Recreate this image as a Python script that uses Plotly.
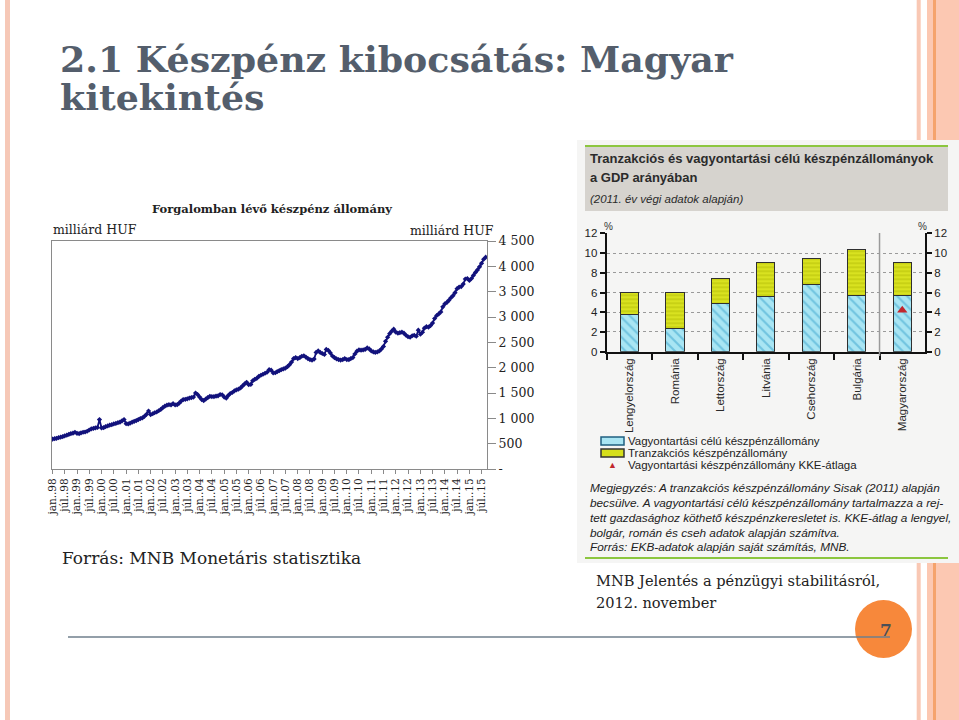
import pandas as pd
import plotly.graph_objects as go

W, H = 959, 720


def px(x):
    return x / W


def py(y):
    return 1 - y / H


# Forgalomban lévő készpénz állomány (milliárd HUF), havi adatok 1998 jan - 2015 szep
cash_1998 = [590, 598, 605, 618, 628, 640, 655, 668, 685, 700, 708, 725]
cash_1999 = [705, 700, 712, 725, 730, 745, 770, 790, 800, 810, 820, 975]
cash_2000 = [810, 815, 835, 850, 865, 875, 890, 900, 915, 925, 950, 975]
cash_2001 = [895, 890, 905, 925, 940, 955, 975, 995, 1010, 1040, 1080, 1145]
cash_2002 = [1075, 1090, 1110, 1125, 1150, 1175, 1210, 1240, 1260, 1270, 1265, 1290]
cash_2003 = [1265, 1270, 1300, 1340, 1370, 1375, 1385, 1400, 1410, 1420, 1500, 1470]
cash_2004 = [1420, 1370, 1350, 1380, 1410, 1435, 1430, 1430, 1440, 1445, 1470, 1465]
cash_2005 = [1420, 1400, 1450, 1490, 1510, 1540, 1560, 1575, 1600, 1640, 1680, 1710]
cash_2006 = [1665, 1670, 1740, 1770, 1790, 1830, 1850, 1870, 1890, 1910, 1960, 1950]
cash_2007 = [1895, 1900, 1920, 1940, 1960, 1975, 1990, 2020, 2060, 2110, 2180, 2200]
cash_2008 = [2180, 2200, 2225, 2235, 2210, 2180, 2160, 2150, 2170, 2300, 2330, 2300]
cash_2009 = [2280, 2260, 2360, 2340, 2290, 2230, 2200, 2175, 2160, 2150, 2160, 2180]
cash_2010 = [2160, 2160, 2180, 2200, 2270, 2325, 2350, 2345, 2350, 2360, 2390, 2370]
cash_2011 = [2330, 2310, 2300, 2310, 2330, 2370, 2420, 2520, 2600, 2670, 2720, 2760]
cash_2012 = [2700, 2680, 2690, 2700, 2680, 2640, 2610, 2600, 2630, 2640, 2620, 2740]
cash_2013 = [2660, 2700, 2780, 2810, 2800, 2830, 2880, 2970, 3030, 3060, 3100, 3200]
cash_2014 = [3260, 3290, 3330, 3380, 3420, 3480, 3560, 3590, 3600, 3650, 3750, 3760]
cash_2015 = [3720, 3760, 3820, 3880, 3930, 3990, 4060, 4140, 4180]

cash_values = (cash_1998 + cash_1999 + cash_2000 + cash_2001 + cash_2002 + cash_2003
               + cash_2004 + cash_2005 + cash_2006 + cash_2007 + cash_2008 + cash_2009
               + cash_2010 + cash_2011 + cash_2012 + cash_2013 + cash_2014 + cash_2015)
cash_months = pd.date_range("1998-01-01", periods=len(cash_values), freq="MS")

date_ticks = [f"{y}-{m:02d}-01" for y in range(1998, 2016) for m in (1, 7)]
date_tick_text = [("jan." if m == 1 else "júl.") + "." + str(y)[2:]
                  for y in range(1998, 2016) for m in (1, 7)]
cash_ticks = [0, 500, 1000, 1500, 2000, 2500, 3000, 3500, 4000, 4500]
cash_tick_text = ["-", "500", "1 000", "1 500", "2 000", "2 500", "3 000", "3 500", "4 000", "4 500"]

# Készpénzállományok a GDP arányában (%), 2011 év vége
countries = ["Lengyelország", "Románia", "Lettország", "Litvánia",
             "Csehország", "Bulgária", "Magyarország"]
hoarding_share = [3.8, 2.4, 4.9, 5.6, 6.8, 5.7, 5.7]
transaction_share = [2.2, 3.6, 2.5, 3.45, 2.65, 4.7, 3.35]
cee_avg_country = ["Magyarország"]
cee_avg_value = [4.2]
pct_ticks = [0, 2, 4, 6, 8, 10, 12]

SERIF = "DejaVu Serif"
SANS = "Liberation Sans"

fig = go.Figure()

fig.add_trace(go.Scatter(
    x=cash_months, y=cash_values, mode="lines+markers",
    line=dict(color="#12127c", width=1.8),
    marker=dict(symbol="diamond", size=4, color="#12127c"),
    xaxis="x", yaxis="y", showlegend=False,
))

fig.add_trace(go.Bar(
    x=countries, y=hoarding_share, xaxis="x2", yaxis="y2", width=0.4,
    marker=dict(color="#a9e5f3", line=dict(color="#2f2f2f", width=1),
                pattern=dict(shape="\\", fgcolor="#37a2cc", bgcolor="#a9e5f3",
                             size=7, solidity=0.3)),
    showlegend=False,
))
fig.add_trace(go.Bar(
    x=countries, y=transaction_share, xaxis="x2", yaxis="y2", width=0.4,
    marker=dict(color="#d6df1c", line=dict(color="#2f2f2f", width=1),
                pattern=dict(shape="-", fgcolor="#a9b000", bgcolor="#d9e220",
                             size=4, solidity=0.35)),
    showlegend=False,
))
fig.add_trace(go.Scatter(
    x=cee_avg_country, y=cee_avg_value, mode="markers", xaxis="x2", yaxis="y3",
    marker=dict(symbol="triangle-up", size=9, color="#c1272d"),
    showlegend=False,
))

axis_gray = "#8a8a8a"
fig.update_layout(
    width=W, height=H,
    margin=dict(l=0, r=0, t=0, b=0, autoexpand=False),
    paper_bgcolor="white",
    plot_bgcolor="rgba(0,0,0,0)",
    barmode="stack",
    xaxis=dict(
        domain=[px(52), px(487)], anchor="y", type="date", automargin=False,
        range=["1997-12-24", "2015-09-20"],
        tickvals=date_ticks, ticktext=date_tick_text, tickangle=-90,
        ticks="outside", ticklen=4, tickcolor=axis_gray,
        tickfont=dict(family=SERIF, size=10.5, color="#222"),
        showline=True, linecolor=axis_gray, linewidth=1.2, mirror=True,
        showgrid=False, zeroline=False,
    ),
    yaxis=dict(
        domain=[py(469), py(241)], anchor="x", side="right", automargin=False,
        range=[0, 4500], tickvals=cash_ticks, ticktext=cash_tick_text,
        ticks="outside", ticklen=8, tickcolor=axis_gray,
        tickfont=dict(family=SERIF, size=12.5, color="#222"),
        showline=True, linecolor=axis_gray, linewidth=1.2, mirror=True,
        showgrid=False, zeroline=False,
    ),
    xaxis2=dict(
        domain=[px(606.7), px(925)], anchor="y2", type="category", automargin=False,
        range=[-0.5, 6.5], tickangle=-90,
        ticks="outside", tickson="boundaries", ticklen=6, tickwidth=2, tickcolor="#111",
        tickfont=dict(family=SANS, size=11.5, color="#2a2a2a"),
        showline=True, linecolor="#111", linewidth=2,
        showgrid=False, zeroline=False,
    ),
    yaxis2=dict(
        domain=[py(351.7), py(233.3)], anchor="x2", automargin=False,
        range=[0, 12], tickvals=pct_ticks,
        ticks="outside", ticklen=5, tickwidth=2, tickcolor="#111",
        tickfont=dict(family=SANS, size=11.5, color="#222"),
        showline=True, linecolor="#111", linewidth=2,
        showgrid=True, gridcolor="#9a9a9a", griddash="dot", gridwidth=1,
        zeroline=False,
    ),
    yaxis3=dict(
        overlaying="y2", anchor="x2", side="right", automargin=False,
        range=[0, 12], tickvals=pct_ticks,
        ticks="outside", ticklen=5, tickwidth=2, tickcolor="#111",
        tickfont=dict(family=SANS, size=11.5, color="#222"),
        showline=True, linecolor="#111", linewidth=2,
        showgrid=False, zeroline=False,
    ),
)

shapes = [
    # slide decorations
    dict(type="rect", xref="paper", yref="paper", x0=px(5), x1=px(10), y0=0, y1=1,
         fillcolor="#f6c8b7", line_width=0, layer="below"),
    dict(type="rect", xref="paper", yref="paper", x0=px(916.7), x1=px(920.7), y0=0, y1=1,
         fillcolor="#f9c8b4", line_width=0, layer="below"),
    dict(type="rect", xref="paper", yref="paper", x0=px(927), x1=1, y0=0, y1=1,
         fillcolor="#fcc8b2", line_width=0, layer="below"),
    dict(type="rect", xref="paper", yref="paper", x0=px(933), x1=px(936), y0=0, y1=1,
         fillcolor="#f5a36c", line_width=0, layer="below"),
    # bar chart panel
    dict(type="rect", xref="paper", yref="paper", x0=px(577), x1=1, y0=py(563), y1=py(140),
         fillcolor="#f5f5f4", line_width=0, layer="below"),
    dict(type="rect", xref="paper", yref="paper", x0=px(585), x1=px(948), y0=py(211), y1=py(147),
         fillcolor="#d6d3ce", line_width=0, layer="below"),
    dict(type="line", xref="paper", yref="paper", x0=px(585), x1=px(948), y0=py(146), y1=py(146),
         line=dict(color="#8cc63f", width=2), layer="below"),
    dict(type="line", xref="paper", yref="paper", x0=px(585), x1=px(948), y0=py(558), y1=py(558),
         line=dict(color="#8cc63f", width=2), layer="below"),
    # separator before Magyarország
    dict(type="line", xref="x2", yref="paper", x0=5.5, x1=5.5, y0=py(356), y1=py(233),
         line=dict(color="#9a9a9a", width=1.5)),
    # manual legend swatches
    dict(type="rect", xref="paper", yref="paper", x0=px(601), x1=px(624), y0=py(445), y1=py(437),
         fillcolor="#a9e5f3", line=dict(color="#1f5f80", width=1.5)),
    dict(type="rect", xref="paper", yref="paper", x0=px(601), x1=px(624), y0=py(457), y1=py(449),
         fillcolor="#d6df1c", line=dict(color="#333", width=1.5)),
    # page number
    dict(type="circle", xref="paper", yref="paper", x0=px(855), x1=px(912), y0=py(658), y1=py(600),
         fillcolor="#f7883b", line_width=0),
    dict(type="line", xref="paper", yref="paper", x0=px(68), x1=px(890), y0=py(637), y1=py(637),
         line=dict(color="#6f7f8c", width=1.5)),
]
fig.update_layout(shapes=shapes)


def note(x, y, text, size, family, color="#222", xanchor="left", bold=False, italic=False):
    if bold:
        text = f"<b>{text}</b>"
    if italic:
        text = f"<i>{text}</i>"
    return dict(x=px(x), y=py(y), xref="paper", yref="paper", text=text, showarrow=False,
                xanchor=xanchor, yanchor="middle",
                font=dict(family=family, size=size, color=color))


title_color = "#545e6c"
annotations = [
    note(58, 59, "2.1 Készpénz kibocsátás: Magyar", 36.3, SERIF, title_color, bold=True),
    note(58, 98, "kitekintés", 36.3, SERIF, title_color, bold=True),
    # left chart
    note(272, 209, "Forgalomban lévő készpénz állomány", 11.5, SERIF, "#222", "center", bold=True),
    note(51, 230, "milliárd HUF", 12.5, SERIF, "#222"),
    note(496, 231, "milliárd HUF", 12.5, SERIF, "#222", "right"),
    note(60, 558, "Forrás: MNB Monetáris statisztika", 17, SERIF, "#222"),
    # right chart
    note(588, 158, "Tranzakciós és vagyontartási célú készpénzállományok", 13, SANS, "#2b2b2b", bold=True),
    note(588, 177, "a GDP arányában", 13, SANS, "#2b2b2b", bold=True),
    note(588, 199, "(2011. év végi adatok alapján)", 11.5, SANS, "#2b2b2b", italic=True),
    note(608, 226, "%", 10, SANS, "#333", "center"),
    note(922, 226, "%", 10, SANS, "#333", "center"),
    note(626, 441, "Vagyontartási célú készpénzállomány", 11.5, SANS, "#222"),
    note(626, 453, "Tranzakciós készpénzállomány", 11.5, SANS, "#222"),
    note(612, 465, "▲", 9, SANS, "#c1272d", "center"),
    note(626, 465, "Vagyontartási készpénzállomány KKE-átlaga", 11.5, SANS, "#222"),
    note(588, 488, "Megjegyzés: A tranzakciós készpénzállomány Sisak (2011) alapján", 11.8, SANS, "#222", italic=True),
    note(588, 503, "becsülve. A vagyontartási célú készpénzállomány tartalmazza a rej-", 11.8, SANS, "#222", italic=True),
    note(588, 518, "tett gazdasághoz köthető készpénzkeresletet is. KKE-átlag a lengyel,", 11.8, SANS, "#222", italic=True),
    note(588, 533, "bolgár, román és cseh adatok alapján számítva.", 11.8, SANS, "#222", italic=True),
    note(588, 547, "Forrás: EKB-adatok alapján saját számítás, MNB.", 11.8, SANS, "#222", italic=True),
    note(594, 580, "MNB Jelentés a pénzügyi stabilitásról,", 14.6, SERIF, "#222"),
    note(594, 602, "2012. november", 14.6, SERIF, "#222"),
    note(886, 630, "7", 17, SERIF, "#4a4f57", "center", bold=True),
]
fig.update_layout(annotations=annotations)

fig.write_html("out.html", config={"displayModeBar": False},
               post_script="document.body.style.margin = '0';")
